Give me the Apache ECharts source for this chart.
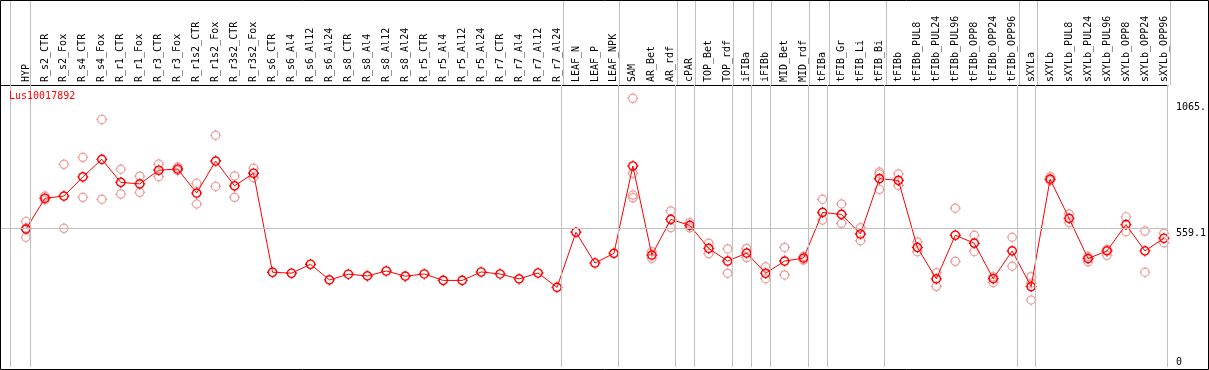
<!DOCTYPE html>
<html>
<head>
<meta charset="utf-8">
<script src="https://cdn.jsdelivr.net/npm/echarts@6/dist/echarts.min.js"></script>
<style>
html,body{margin:0;padding:0;background:#fff;}
#chart{width:1209px;height:370px;}
</style>
</head>
<body>
<div id="chart"></div>
<script>
var categories = ["HYP","R_s2_CTR","R_s2_Fox","R_s4_CTR","R_s4_Fox","R_r1_CTR","R_r1_Fox","R_r3_CTR","R_r3_Fox","R_r1s2_CTR","R_r1s2_Fox","R_r3s2_CTR","R_r3s2_Fox","R_s6_CTR","R_s6_Al4","R_s6_Al12","R_s6_Al24","R_s8_CTR","R_s8_Al4","R_s8_Al12","R_s8_Al24","R_r5_CTR","R_r5_Al4","R_r5_Al12","R_r5_Al24","R_r7_CTR","R_r7_Al4","R_r7_Al12","R_r7_Al24","LEAF_N","LEAF_P","LEAF_NPK","SAM","AR_Bet","AR_rdf","cPAR","TOP_Bet","TOP_rdf","iFIBa","iFIBb","MID_Bet","MID_rdf","tFIBa","tFIB_Gr","tFIB_Li","tFIB_Bi","tFIBb","tFIBb_PUL8","tFIBb_PUL24","tFIBb_PUL96","tFIBb_OPP8","tFIBb_OPP24","tFIBb_OPP96","sXYLa","sXYLb","sXYLb_PUL8","sXYLb_PUL24","sXYLb_PUL96","sXYLb_OPP8","sXYLb_OPP24","sXYLb_OPP96"];

var meanValues = [556,680,689,766,837,744,738,793,798,701,830,730,781,382,378,414,351,374,367,387,366,375,349,349,383,375,355,379,321,543,419,458,810,451,595,571,478,427,459,378,427,439,623,615,536,759,752,482,355,531,499,356,468,324,757,599,437,468,574,468,519];

var replicateValues = [[586,560,523],[689,673],[817,559],[845,684],[998,676],[797,697],[769,704],[818,767],[806,792],[740,657],[934,728],[770,684],[801,763],[],[],[],[],[],[],[],[],[],[],[],[],[],[],[],[],[],[],[],[1083,781,693,682],[465,438],[629,562],[582,561],[499,457],[476,378],[478,441],[404,356],[482,371],[445,431],[676,592],[657,579],[561,509],[786,778,716],[778,732],[504,465],[380,325],[640,426],[531,466],[364,341],[523,406],[364,338,270],[767,751],[617,582],[445,424],[474,450],[605,545],[548,382],[539,501]];

var groupSeparators = [-0.82,0.23,28.25,31.23,34.25,35.23,37.23,38.25,39.23,41.23,42.25,45.26,52.25,53.23,60.2];

var yTickValues = [0, 559.1, 1065];
var yTickLabels = ["0", "559.1", "1065."];
var guideValue = 559.1;
var chartTitle = "Lus10017892";

var XMIN = -1.316, XMAX = 60.21, YMAX = 1136.6;
var FONT = "DejaVu Sans Mono";
var markerPath = "path://M1.5 6A4.5 4.5 0 1 1 10.5 6A4.5 4.5 0 1 1 1.5 6ZM6 0L6 1.5M6 10.5L6 12M0 6L1.5 6M10.5 6L12 6";

var meanData = meanValues.map(function (v, i) { return [i, v]; });
var repData = [];
replicateValues.forEach(function (arr, i) { arr.forEach(function (v) { repData.push([i, v]); }); });

var sepLines = groupSeparators.map(function (x) { return { xAxis: x }; });
var sepMarkLine = {
  silent: true, symbol: ['none', 'none'], animation: false,
  label: { show: false },
  lineStyle: { color: '#c0c0c0', width: 1, type: 'solid' },
  emphasis: { disabled: true },
  data: sepLines
};

var chart = echarts.init(document.getElementById('chart'), null, { renderer: 'canvas' });
var option = {
  animation: false,
  backgroundColor: '#ffffff',
  title: {
    text: chartTitle, left: 9, top: 91, padding: 0,
    textStyle: { color: '#ff0000', fontSize: 10, fontWeight: 'normal', fontFamily: FONT }
  },
  graphic: [{
    type: 'rect', silent: true, z: 100,
    shape: { x: 0.5, y: 0.5, width: 1208, height: 369 },
    style: { fill: 'none', stroke: '#000', lineWidth: 1 }
  }],
  grid: [
    { left: 1, right: 39, top: 85, bottom: 3, containLabel: false },
    { left: 1, right: 39, top: 0, height: 85, containLabel: false }
  ],
  xAxis: [
    {
      type: 'value', gridIndex: 0, min: XMIN, max: XMAX, position: 'top',
      axisLine: { show: true, onZero: false, lineStyle: { color: '#000', width: 1 } },
      axisTick: { show: false }, splitLine: { show: false },
      axisLabel: {
        show: true, rotate: -90, margin: 3,
        customValues: categories.map(function (c, i) { return i; }),
        formatter: function (v) { return categories[Math.round(v)]; },
        color: '#000', fontSize: 10, fontFamily: FONT
      }
    },
    {
      type: 'value', gridIndex: 1, min: XMIN, max: XMAX, show: false
    }
  ],
  yAxis: [
    {
      type: 'value', gridIndex: 0, min: 0, max: YMAX, position: 'right',
      axisLine: { show: false }, axisTick: { show: false }, splitLine: { show: false },
      axisLabel: {
        show: true, margin: 8, verticalAlign: 'top',
        customValues: yTickValues.slice(1),
        formatter: function (v) { return yTickLabels[yTickValues.indexOf(v)]; },
        color: '#000', fontSize: 10, fontFamily: FONT
      }
    },
    {
      type: 'value', gridIndex: 0, min: 0, max: YMAX, position: 'right',
      axisLine: { show: false }, axisTick: { show: false }, splitLine: { show: false },
      axisLabel: {
        show: true, margin: 8, verticalAlign: 'bottom',
        customValues: yTickValues.slice(0, 1),
        formatter: function (v) { return yTickLabels[yTickValues.indexOf(v)]; },
        color: '#000', fontSize: 10, fontFamily: FONT
      }
    },
    { type: 'value', gridIndex: 1, min: 0, max: 1, show: false }
  ],
  series: [
    {
      type: 'line', xAxisIndex: 1, yAxisIndex: 2, data: [], showSymbol: false,
      markLine: sepMarkLine, z: 1
    },
    {
      type: 'scatter', xAxisIndex: 0, yAxisIndex: 0, data: [], z: 1,
      markLine: {
        silent: true, symbol: ['none', 'none'], animation: false,
        label: { show: false }, emphasis: { disabled: true },
        lineStyle: { color: '#c0c0c0', width: 1, type: 'solid' },
        data: sepLines.concat([{ yAxis: guideValue }])
      }
    },
    {
      name: 'replicates', type: 'scatter', xAxisIndex: 0, yAxisIndex: 0, z: 2,
      data: repData, symbol: markerPath, symbolSize: 11,
      itemStyle: { color: 'rgba(0,0,0,0)', borderColor: '#ee9a9a', borderWidth: 1.2, opacity: 1 },
      emphasis: { disabled: true }
    },
    {
      name: 'mean', type: 'line', xAxisIndex: 0, yAxisIndex: 0, z: 3,
      data: meanData, symbol: markerPath, symbolSize: 11, showSymbol: true,
      lineStyle: { color: '#ff0000', width: 1 },
      itemStyle: { color: 'rgba(0,0,0,0)', borderColor: '#ff0000', borderWidth: 1.4 },
      emphasis: { disabled: true }
    }
  ]
};
chart.setOption(option);
</script>
</body>
</html>
